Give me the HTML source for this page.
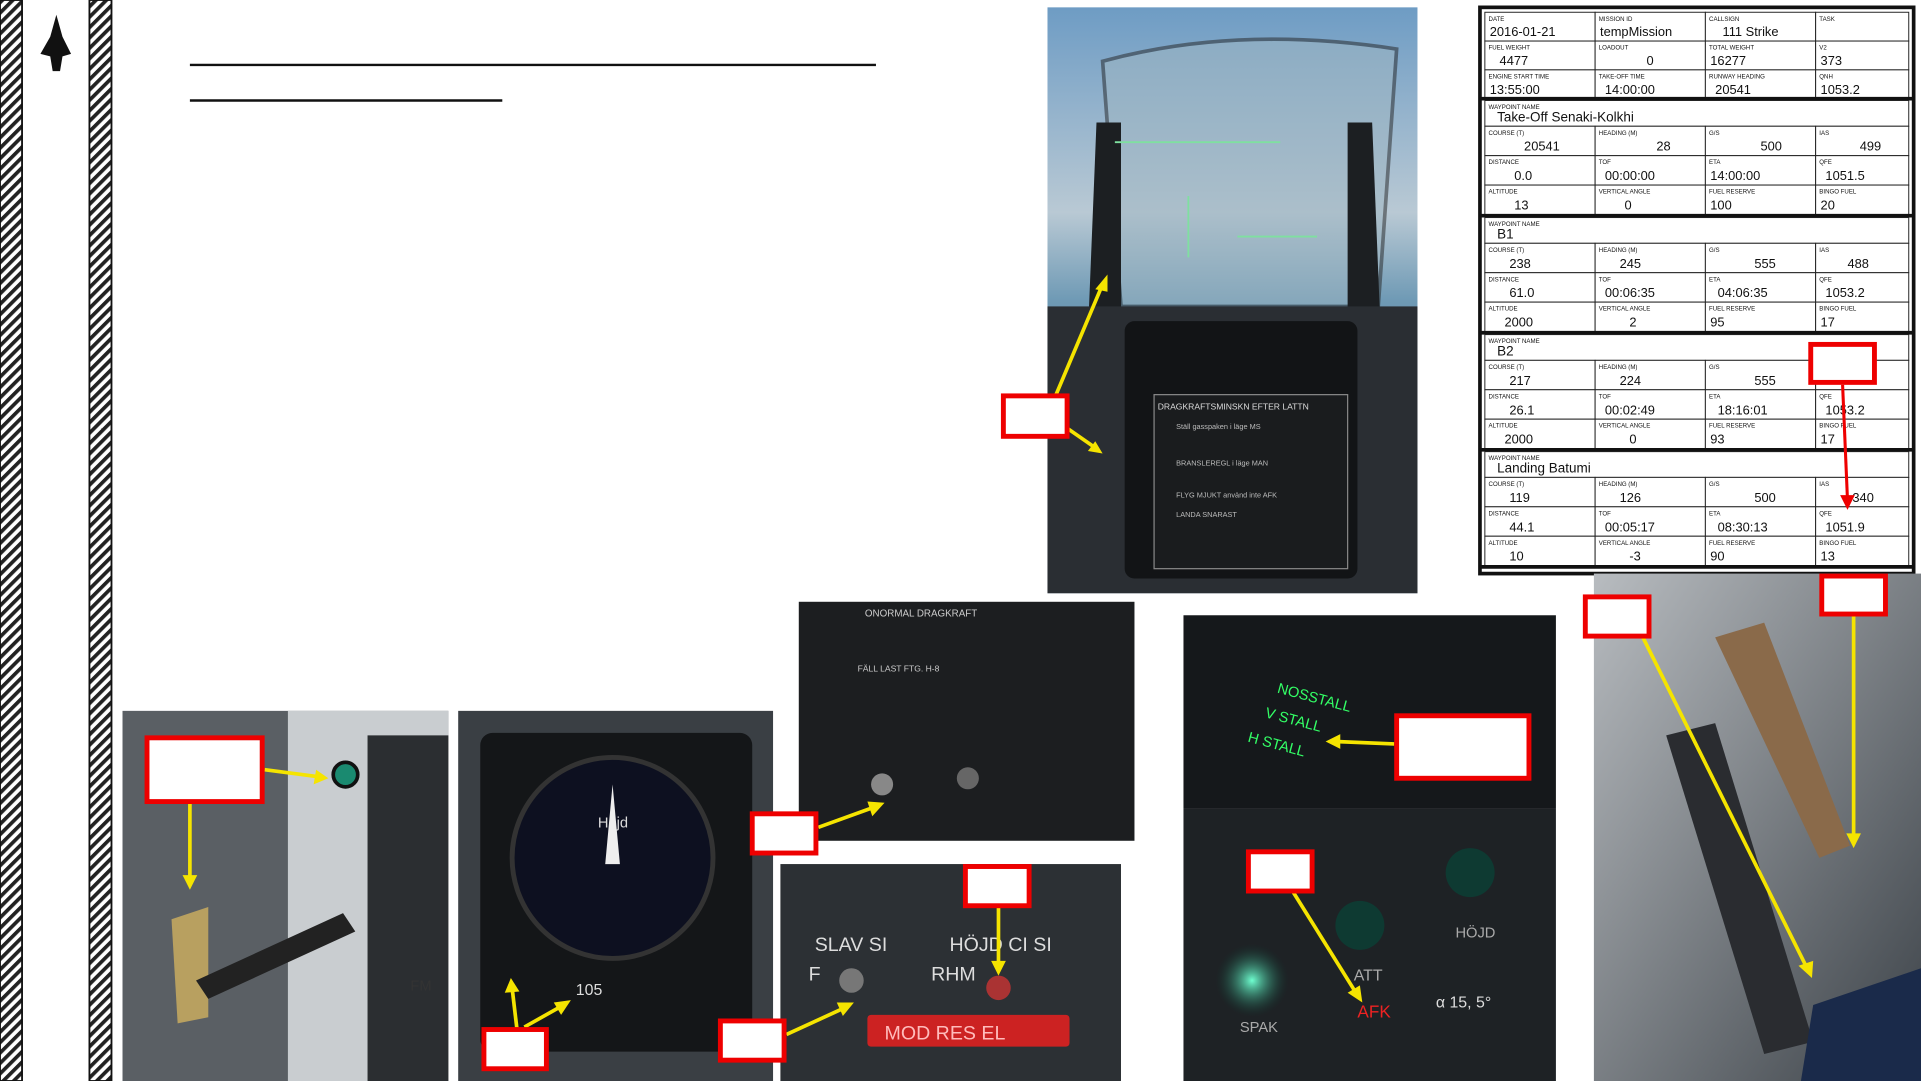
<!DOCTYPE html>
<html><head><meta charset="utf-8"><style>
html,body{margin:0;padding:0;background:#fff;overflow:hidden}
svg{display:block}
text{font-family:"Liberation Sans",sans-serif}
</style></head><body>
<svg id="s" width="1921" height="1081" viewBox="0 0 1568 882" preserveAspectRatio="none" xmlns="http://www.w3.org/2000/svg">
<defs>
<pattern id="hatch" width="6" height="6" patternUnits="userSpaceOnUse" patternTransform="rotate(45)"><rect width="6" height="6" fill="#fff"/><rect width="3" height="6" fill="#222"/></pattern>
<linearGradient id="sky" x1="0" y1="0" x2="0" y2="1"><stop offset="0" stop-color="#6e9cc4"/><stop offset=".35" stop-color="#b9c9d4"/><stop offset=".5" stop-color="#6f9ab5"/><stop offset="1" stop-color="#2a4a60"/></linearGradient>
<radialGradient id="glow"><stop offset="0" stop-color="#6fffd0"/><stop offset="1" stop-color="#0a3a30" stop-opacity="0"/></radialGradient>
<linearGradient id="grey" x1="0" y1="0" x2="1" y2="1"><stop offset="0" stop-color="#b8bcc0"/><stop offset="1" stop-color="#3c4248"/></linearGradient>
</defs>
<!-- left bar -->
<rect x="0" y="0" width="18" height="882" fill="url(#hatch)"/>
<rect x="73" y="0" width="18" height="882" fill="url(#hatch)"/>
<rect x="0" y="0" width="18" height="882" fill="none" stroke="#111" stroke-width="1.5"/>
<rect x="73" y="0" width="18" height="882" fill="none" stroke="#111" stroke-width="1.5"/>
<path d="M46 12 L51 30 L58 44 L51 46 L49 58 L43 58 L41 46 L33 44 L41 30 Z" fill="#111"/>
<!-- title lines -->
<line x1="155" y1="53" x2="715" y2="53" stroke="#111" stroke-width="2"/>
<line x1="155" y1="82" x2="410" y2="82" stroke="#111" stroke-width="2"/>

<!-- top cockpit photo -->
<g>
<rect x="855" y="6" width="302" height="478" fill="url(#sky)"/>
<path d="M900 50 Q1010 20 1140 40 L1125 250 L915 250 Z" fill="#9fb6c2" opacity=".5" stroke="#222" stroke-width="3"/>
<path d="M895 100 L915 100 L915 470 L880 470 Z" fill="#1c1f22"/>
<path d="M1100 100 L1120 100 L1135 470 L1100 470 Z" fill="#1c1f22"/>
<rect x="855" y="250" width="302" height="234" fill="#2a2e33"/>
<rect x="918" y="262" width="190" height="210" rx="8" fill="#121416"/>
<rect x="942" y="322" width="158" height="142" fill="#1a1c1e" stroke="#888" stroke-width="1"/>
<text x="945" y="334" font-size="7" fill="#ddd">DRAGKRAFTSMINSKN EFTER LATTN</text>
<text x="960" y="350" font-size="6" fill="#bbb">Ställ gasspaken i läge MS</text>
<text x="960" y="380" font-size="6" fill="#bbb">BRANSLEREGL i läge MAN</text>
<text x="960" y="406" font-size="6" fill="#bbb">FLYG MJUKT använd inte AFK</text>
<text x="960" y="422" font-size="6" fill="#bbb">LANDA SNARAST</text>
<line x1="910" y1="116" x2="1045" y2="116" stroke="#7fe0a0" stroke-width="1.5"/>
<line x1="1010" y1="193" x2="1075" y2="193" stroke="#7fe0a0" stroke-width="1.5"/>
<line x1="970" y1="160" x2="970" y2="210" stroke="#7fe0a0" stroke-width="1.5"/>
</g>

<!-- flight plan table -->
<g id="tbl"></g>

<!-- bottom photos -->
<g>
<rect x="100" y="580" width="266" height="302" fill="#5a5f64"/>
<rect x="235" y="580" width="131" height="302" fill="#c9cdd0"/>
<rect x="300" y="600" width="66" height="282" fill="#2b2e31"/>
<circle cx="282" cy="632" r="10" fill="#1a8a70" stroke="#111" stroke-width="3"/>
<path d="M140 750 L170 740 L170 830 L145 835 Z" fill="#b8a060"/>
<path d="M160 800 L280 745 L290 760 L170 815 Z" fill="#222"/>
<text x="335" y="808" font-size="12" fill="#333">FM</text>
</g>
<g>
<rect x="374" y="580" width="257" height="302" fill="#3a3f44"/>
<rect x="392" y="598" width="222" height="260" rx="10" fill="#141618"/>
<circle cx="500" cy="700" r="82" fill="#0d1020" stroke="#333" stroke-width="4"/>
<text x="488" y="675" font-size="12" fill="#ddd">Höjd</text>
<text x="470" y="812" font-size="13" fill="#ddd">105</text>
<path d="M500 640 L506 705 L494 705 Z" fill="#eee"/>
</g>
<g>
<rect x="652" y="491" width="274" height="195" fill="#1c1e20"/>
<text x="706" y="503" font-size="8" fill="#ccc">ONORMAL DRAGKRAFT</text>
<text x="700" y="548" font-size="7" fill="#ccc">FÄLL LAST  FTG. H-8</text>
<circle cx="720" cy="640" r="9" fill="#888"/>
<circle cx="790" cy="635" r="9" fill="#666"/>
</g>
<g>
<rect x="637" y="705" width="278" height="177" fill="#2c3034"/>
<text x="665" y="776" font-size="16" fill="#ddd">SLAV  SI</text>
<text x="775" y="776" font-size="16" fill="#ddd">HÖJD CI  SI</text>
<text x="660" y="800" font-size="16" fill="#ddd">F</text>
<text x="760" y="800" font-size="16" fill="#ddd">RHM</text>
<rect x="708" y="828" width="165" height="26" fill="#c22" rx="3"/>
<text x="722" y="848" font-size="16" fill="#fbb">MOD  RES  EL</text>
<circle cx="695" cy="800" r="10" fill="#777"/>
<circle cx="815" cy="806" r="10" fill="#a33"/>
</g>
<g>
<rect x="966" y="502" width="304" height="158" fill="#15181b"/>
<text x="1042" y="565" font-size="12" fill="#3f6" transform="rotate(15 1042 565)">NOSSTALL</text>
<text x="1032" y="585" font-size="12" fill="#3f6" transform="rotate(15 1032 585)">V  STALL</text>
<text x="1018" y="605" font-size="12" fill="#3f6" transform="rotate(15 1018 605)">H  STALL</text>
</g>
<g>
<rect x="966" y="660" width="304" height="222" fill="#1e2225"/>
<circle cx="1022" cy="800" r="30" fill="url(#glow)"/>
<circle cx="1110" cy="755" r="20" fill="#0e3a32"/>
<circle cx="1200" cy="712" r="20" fill="#0e3a32"/>
<text x="1108" y="830" font-size="14" fill="#e22">AFK</text>
<text x="1105" y="800" font-size="13" fill="#aaa">ATT</text>
<text x="1012" y="842" font-size="12" fill="#aaa">SPAK</text>
<text x="1188" y="765" font-size="12" fill="#aaa">HÖJD</text>
<text x="1172" y="822" font-size="13" fill="#ddd">α 15, 5°</text>
</g>
<g>
<rect x="1301" y="468" width="267" height="414" fill="url(#grey)"/>
<path d="M1400 520 L1440 508 L1510 690 L1485 700 Z" fill="#8a6a4a"/>
<path d="M1360 600 L1400 590 L1480 850 L1440 860 Z" fill="#2a2c30"/>
<path d="M1480 820 L1568 790 L1568 882 L1470 882 Z" fill="#1a2a4a"/>
</g>

<!-- callouts -->
<g stroke="#f5e400" stroke-width="3" fill="#f5e400">
<line x1="862" y1="322" x2="900" y2="232"/><polygon points="904,224 894,236 904,238" stroke="none"/>
<line x1="872" y1="350" x2="895" y2="366"/><polygon points="900,370 888,368 894,360" stroke="none"/>
<line x1="216" y1="628" x2="262" y2="634"/><polygon points="268,635 258,628 256,640" stroke="none"/>
<line x1="155" y1="656" x2="155" y2="718"/><polygon points="155,726 149,714 161,714" stroke="none"/>
<line x1="422" y1="840" x2="418" y2="806"/><polygon points="417,798 412,810 424,809" stroke="none"/>
<line x1="428" y1="838" x2="460" y2="820"/><polygon points="466,816 452,818 458,828" stroke="none"/>
<line x1="668" y1="675" x2="715" y2="658"/><polygon points="722,655 708,654 712,666" stroke="none"/>
<line x1="642" y1="844" x2="690" y2="822"/><polygon points="697,818 683,818 688,829" stroke="none"/>
<line x1="815" y1="740" x2="815" y2="788"/><polygon points="815,796 809,784 821,784" stroke="none"/>
<line x1="1138" y1="607" x2="1090" y2="605"/><polygon points="1082,605 1094,599 1094,611" stroke="none"/>
<line x1="1055" y1="727" x2="1108" y2="812"/><polygon points="1112,818 1100,810 1110,804" stroke="none"/>
<line x1="1340" y1="518" x2="1475" y2="790"/><polygon points="1479,798 1468,788 1480,784" stroke="none"/>
<line x1="1513" y1="500" x2="1513" y2="684"/><polygon points="1513,692 1507,680 1519,680" stroke="none"/>
</g>
<line x1="1504" y1="314" x2="1508" y2="408" stroke="#e00" stroke-width="2.5"/>
<polygon points="1508,416 1502,404 1514,404" fill="#e00"/>
<g fill="#fff" stroke="#e00" stroke-width="4">
<rect x="819" y="323" width="52" height="33"/>
<rect x="1478" y="281" width="52" height="31"/>
<rect x="120" y="602" width="94" height="52"/>
<rect x="395" y="840" width="51" height="32"/>
<rect x="614" y="664" width="52" height="32"/>
<rect x="588" y="833" width="52" height="32"/>
<rect x="788" y="707" width="52" height="32"/>
<rect x="1140" y="584" width="108" height="51"/>
<rect x="1019" y="695" width="52" height="32"/>
<rect x="1294" y="487" width="52" height="32"/>
<rect x="1487" y="470" width="52" height="31"/>
</g>
</svg>
<script>
const NS="http://www.w3.org/2000/svg";
const tbl=document.getElementById('tbl');
const colX=[1212,1302,1392,1482,1558];
const header=[
 [["DATE","2016-01-21",4],["MISSION ID","tempMission",4],["CALLSIGN","111      Strike",14],["TASK","",4]],
 [["FUEL WEIGHT","4477",12],["LOADOUT","0",42],["TOTAL WEIGHT","16277",4],["V2","373",4]],
 [["ENGINE START TIME","13:55:00",4],["TAKE-OFF TIME","14:00:00",8],["RUNWAY HEADING","20541",8],["QNH","1053.2",4]]
];
const wpNames=["Take-Off Senaki-Kolkhi","B1","B2","Landing Batumi"];
const wpRows=[
 [[["COURSE (T)","20541",32],["HEADING (M)","28",50],["G/S","500",45],["IAS","499",36]],
  [["DISTANCE","0.0",24],["TOF","00:00:00",8],["ETA","14:00:00",4],["QFE","1051.5",8]],
  [["ALTITUDE","13",24],["VERTICAL ANGLE","0",24],["FUEL RESERVE","100",4],["BINGO FUEL","20",4]]],
 [[["COURSE (T)","238",20],["HEADING (M)","245",20],["G/S","555",40],["IAS","488",26]],
  [["DISTANCE","61.0",20],["TOF","00:06:35",8],["ETA","04:06:35",10],["QFE","1053.2",8]],
  [["ALTITUDE","2000",16],["VERTICAL ANGLE","2",28],["FUEL RESERVE","95",4],["BINGO FUEL","17",4]]],
 [[["COURSE (T)","217",20],["HEADING (M)","224",20],["G/S","555",40],["IAS","",26]],
  [["DISTANCE","26.1",20],["TOF","00:02:49",8],["ETA","18:16:01",10],["QFE","1053.2",8]],
  [["ALTITUDE","2000",16],["VERTICAL ANGLE","0",28],["FUEL RESERVE","93",4],["BINGO FUEL","17",4]]],
 [[["COURSE (T)","119",20],["HEADING (M)","126",20],["G/S","500",40],["IAS","340",30]],
  [["DISTANCE","44.1",20],["TOF","00:05:17",8],["ETA","08:30:13",10],["QFE","1051.9",8]],
  [["ALTITUDE","10",20],["VERTICAL ANGLE","-3",28],["FUEL RESERVE","90",4],["BINGO FUEL","13",4]]]
];
function el(t,a){const e=document.createElementNS(NS,t);for(const k in a)e.setAttribute(k,a[k]);tbl.appendChild(e);return e;}
function txt(x,y,s,v){const e=el('text',{x:x,y:y,'font-size':s,fill:'#111'});e.textContent=v;return e;}
function row(y,h,cells){
 cells.forEach((c,i)=>{
  const r=el('rect',{x:colX[i],y:y,width:colX[i+1]-colX[i],height:h,fill:'#fff',stroke:'#222','stroke-width':0.8});
  
  
  txt(colX[i]+3,y+7,5,c[0]);
  txt(colX[i]+c[2],y+h-4,10.5,c[1]);
 });
}
const bg=el('rect',{x:1208,y:6,width:354,height:462,fill:'#fff',stroke:'#111','stroke-width':3});


header.forEach((c,i)=>row(10+i*23.5,23.5,c));
el('line',{x1:1208,y1:80.5,x2:1562,y2:80.5,stroke:'#111','stroke-width':3});
wpNames.forEach((n,w)=>{
 const y0=82+w*95.5;
 const nr=el('rect',{x:1212,y:y0,width:346,height:21,fill:'#fff',stroke:'#222','stroke-width':0.8});
 
 
 txt(1215,y0+7,5,"WAYPOINT NAME");
 txt(1222,y0+17,11,n);
 wpRows[w].forEach((c,i)=>row(y0+21+i*24,24,c));
 el('line',{x1:1208,y1:y0+94,x2:1562,y2:y0+94,stroke:'#111','stroke-width':3});
});
</script>
</body></html>
